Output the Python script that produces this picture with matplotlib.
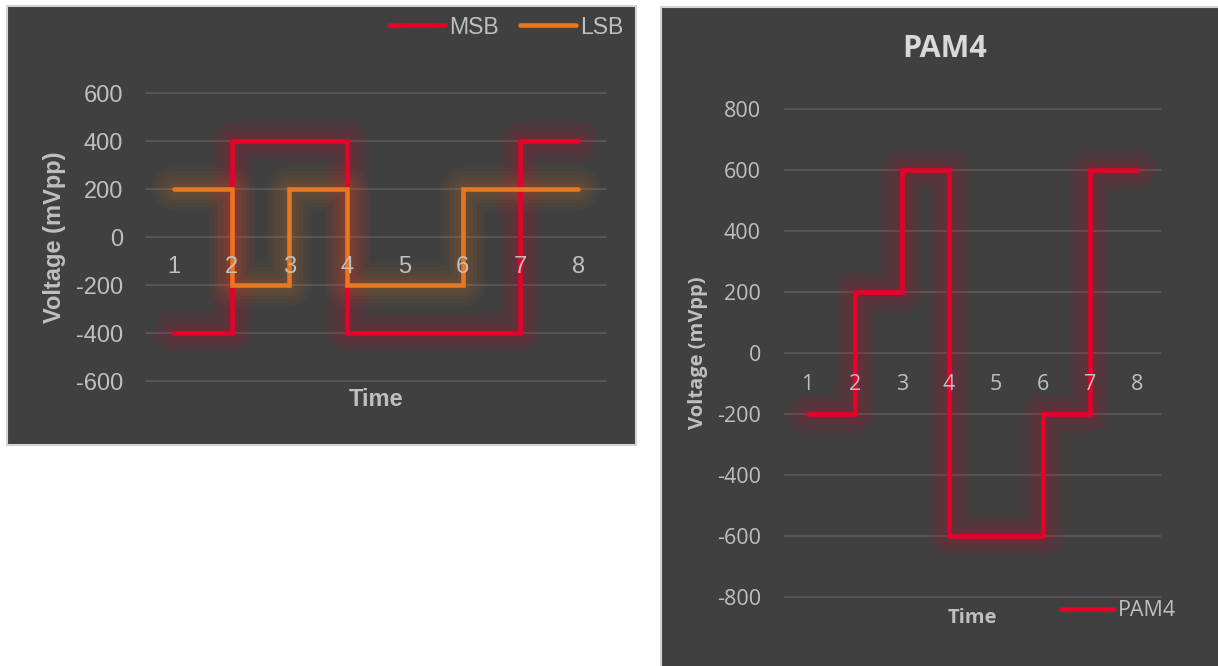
import matplotlib
matplotlib.use("Agg")
import matplotlib.pyplot as plt
from matplotlib.patches import Rectangle

# ---- data -------------------------------------------------------------
time_points = [1, 2, 3, 4, 5, 6, 7, 8]
msb_mv = [-400, 400, 400, -400, -400, -400, 400, 400]
lsb_mv = [200, -200, 200, -200, -200, 200, 200, 200]
pam4_mv = [-200, 200, 600, -600, -600, -200, 600, 600]
left_yticks = [-600, -400, -200, 0, 200, 400, 600]
right_yticks = [-800, -600, -400, -200, 0, 200, 400, 600, 800]

# ---- style ------------------------------------------------------------
W, H, DPI = 1218, 666, 100
BG = "#404040"
FRAME = "#d4d4d4"
GRID = "#595959"
TXT = "#bfbfbf"
TITLE_TXT = "#d9d9d9"
RED = "#e8002a"
ORANGE = "#e87722"
LW = 3.3

fig = plt.figure(figsize=(W / DPI, H / DPI), dpi=DPI, facecolor="white")


def px_rect(x0, y0, x1, y1):
    """Figure-fraction rectangle from pixel corners (top-left origin)."""
    return [x0 / W, 1 - y1 / H, (x1 - x0) / W, (y1 - y0) / H]


def fx(x):
    return x / W


def fy(y):
    return 1 - y / H


# panel backgrounds (drawn beneath the axes)
fig.patches.append(Rectangle((fx(7), fy(445)), (636 - 7) / W, (445 - 6) / H,
                             transform=fig.transFigure, facecolor=BG,
                             edgecolor=FRAME, lw=1.5, zorder=-5))
fig.patches.append(Rectangle((fx(661), fy(690)), (1240 - 661) / W, (690 - 7) / H,
                             transform=fig.transFigure, facecolor=BG,
                             edgecolor=FRAME, lw=1.5, zorder=-5))


def glow_step(ax, x, y, color, label):
    # soft halo: stacked translucent strokes of decreasing width
    for lw, a in [(32, 0.04), (26, 0.045), (20, 0.05), (14, 0.05), (9, 0.05)]:
        ax.plot(x, y, drawstyle="steps-post", lw=lw, color=color, alpha=a,
                solid_joinstyle="round", solid_capstyle="round",
                clip_on=False, zorder=2)
    line, = ax.plot(x, y, drawstyle="steps-post", lw=LW, color=color,
                    solid_joinstyle="miter", solid_capstyle="round",
                    clip_on=False, zorder=3, label=label)
    return line


def setup_axes(ax, yticks, family, tick_size, pad_pt, label_offset_pt):
    ax.set_facecolor("none")
    ax.set_xlim(0.5, 8.5)
    ax.set_ylim(yticks[0], yticks[-1])
    for s in ax.spines.values():
        s.set_visible(False)
    ax.set_xticks([])
    ax.set_yticks(yticks)
    ax.set_yticklabels([str(v) for v in yticks], family=family,
                       fontsize=tick_size, color=TXT)
    ax.tick_params(axis="y", length=0, pad=pad_pt)
    ax.hlines(yticks, 0.5, 8.5, color=GRID, lw=1.3, clip_on=False, zorder=1)
    for t in time_points:
        ax.annotate(str(t), (t, 0), xytext=(0, -label_offset_pt),
                    textcoords="offset points", ha="center", va="center",
                    family=family, fontsize=tick_size, color=TXT, zorder=6,
                    annotation_clip=False)


# ---- left chart: MSB / LSB -------------------------------------------
LEFT_FONT = "Liberation Sans"
axl = fig.add_axes(px_rect(145, 93, 607, 381))
setup_axes(axl, left_yticks, LEFT_FONT, 17, 15.8, 21.6)
h_msb = glow_step(axl, time_points, msb_mv, RED, "MSB")
h_lsb = glow_step(axl, time_points, lsb_mv, ORANGE, "LSB")

fig.text(fx(55), fy(237), "Voltage (mVpp)", rotation=90, ha="center",
         va="center", family=LEFT_FONT, fontsize=17, fontweight="bold",
         color=TXT)
fig.text(fx(376), fy(399), "Time", ha="center", va="center",
         family=LEFT_FONT, fontsize=17, fontweight="bold", color=TXT)

leg_l = fig.legend(handles=[h_msb, h_lsb], loc="center right",
                   bbox_to_anchor=(fx(623), fy(27)), ncol=2, frameon=False,
                   prop={"family": LEFT_FONT, "size": 16.6},
                   handlelength=2.4, handletextpad=0.17, columnspacing=0.95,
                   borderpad=0, borderaxespad=0)
for t in leg_l.get_texts():
    t.set_color(TXT)

# ---- right chart: PAM4 ------------------------------------------------
RIGHT_FONT = "Open Sans"
axr = fig.add_axes(px_rect(784, 109, 1161, 597))
setup_axes(axr, right_yticks, RIGHT_FONT, 15.5, 16.6, 23)
h_pam = glow_step(axr, time_points, pam4_mv, RED, "PAM4")

fig.text(fx(945), fy(49), "PAM4", ha="center", va="center",
         family=RIGHT_FONT, fontsize=22, fontweight="bold", color=TITLE_TXT)
fig.text(fx(698), fy(353), "Voltage (mVpp)", rotation=90, ha="center",
         va="center", family=RIGHT_FONT, fontsize=14.5, fontweight="bold",
         color=TXT)
fig.text(fx(972), fy(618), "Time", ha="center", va="center",
         family=RIGHT_FONT, fontsize=14.5, fontweight="bold", color=TXT)

leg_r = fig.legend(handles=[h_pam], loc="center left",
                   bbox_to_anchor=(fx(1060), fy(611)), frameon=False,
                   prop={"family": RIGHT_FONT, "size": 15.5},
                   handlelength=2.5, handletextpad=0.2,
                   borderpad=0, borderaxespad=0)
for t in leg_r.get_texts():
    t.set_color(TXT)

fig.savefig("out.png", dpi=DPI, facecolor="white")
